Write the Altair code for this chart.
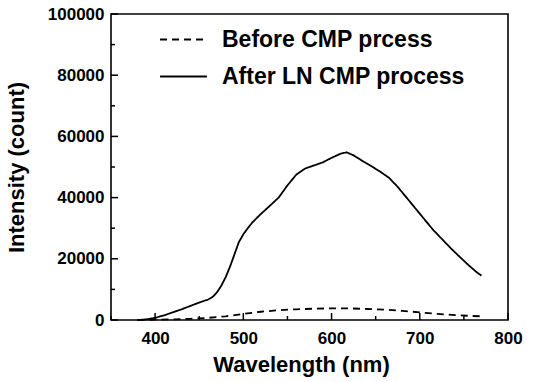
import altair as alt
import pandas as pd

wl_after = [380, 390, 400, 410, 420, 430, 440, 450, 460, 465, 470, 475, 480, 485, 490, 495,
            500, 505, 510, 520, 530, 540, 550, 560, 570, 580, 590, 600, 610, 617, 625, 635,
            645, 655, 665, 675, 685, 695, 705, 715, 725, 735, 745, 755, 765, 770]
int_after = [0, 200, 700, 1500, 2500, 3500, 4600, 5700, 6700, 7500, 9000, 11200, 14000, 17500,
             21500, 25500, 28000, 30000, 31800, 34700, 37300, 40000, 44000, 47500, 49500, 50500,
             51500, 53000, 54300, 54800, 53800, 52000, 50300, 48500, 46500, 43500, 40000, 36500,
             33000, 29500, 26500, 23500, 20700, 18000, 15500, 14500]
wl_before = [380, 400, 420, 440, 460, 480, 500, 520, 540, 560, 580, 600, 620, 640, 660, 680,
             700, 720, 740, 760, 770]
int_before = [0, 100, 200, 400, 700, 1200, 2000, 2700, 3200, 3500, 3700, 3800, 3800, 3600,
              3400, 3000, 2500, 2000, 1600, 1300, 1200]
series = ["Before CMP prcess", "After LN CMP process"]

x_major = [400, 500, 600, 700, 800]
x_minor = [350, 450, 550, 650, 750]
y_major = [0, 20000, 40000, 60000, 80000, 100000]
y_minor = [10000, 30000, 50000, 70000, 90000]

W, H = 397, 306
FONT = "Liberation Sans"

df = pd.concat([
    pd.DataFrame({"wl": wl_before, "val": int_before, "s": series[0]}),
    pd.DataFrame({"wl": wl_after, "val": int_after, "s": series[1]}),
], ignore_index=True)

xs = alt.Scale(domain=[350, 800], nice=False, zero=False)
ys = alt.Scale(domain=[0, 100000], nice=False)

lines = alt.Chart(df).mark_line(color="black", strokeWidth=1.8).encode(
    x=alt.X("wl:Q", scale=xs,
            axis=alt.Axis(title="Wavelength (nm)", values=x_major, ticks=False, domain=False,
                          grid=False, labelPadding=10, titlePadding=8, titleX=190,
                          labelFlush=False, format="d")),
    y=alt.Y("val:Q", scale=ys,
            axis=alt.Axis(title="Intensity (count)", values=y_major, ticks=False, domain=False,
                          grid=False, labelPadding=7, titlePadding=19,
                          labelFlush=False, format="d")),
    strokeDash=alt.StrokeDash("s:N", scale=alt.Scale(domain=series, range=[[7, 5], [1, 0]]),
                              legend=alt.Legend(title=None, orient="none", legendX=48, legendY=1,
                                                symbolType="stroke", symbolSize=2200,
                                                symbolStrokeColor="black", symbolStrokeWidth=1.8,
                                                labelFontSize=23, labelFont=FONT,
                                                labelFontWeight="bold", labelColor="black",
                                                labelOffset=14, labelLimit=400, rowPadding=-10,
                                                padding=0)),
    order="wl:Q",
)

def xticks(vals, ln):
    return alt.Chart(pd.DataFrame({"tx": vals})).mark_rule(color="black", strokeWidth=1.5).encode(
        x=alt.X("tx:Q", scale=xs), y=alt.value(H), y2=alt.value(H - ln))

def yticks(vals, ln):
    return alt.Chart(pd.DataFrame({"ty": vals})).mark_rule(color="black", strokeWidth=1.5).encode(
        y=alt.Y("ty:Q", scale=ys), x=alt.value(0), x2=alt.value(ln))

chart = alt.layer(
    xticks(x_major, 7), xticks(x_minor, 4), yticks(y_major, 7), yticks(y_minor, 4), lines
).properties(
    width=W, height=H,
).configure_view(
    stroke="black", strokeWidth=1.6
).configure_axis(
    labelFont=FONT, labelFontSize=17, labelFontWeight="bold", labelColor="black",
    titleFont=FONT, titleFontSize=22, titleFontWeight="bold", titleColor="black",
)

chart.save("out.html", embed_options={"renderer": "svg", "actions": False})
